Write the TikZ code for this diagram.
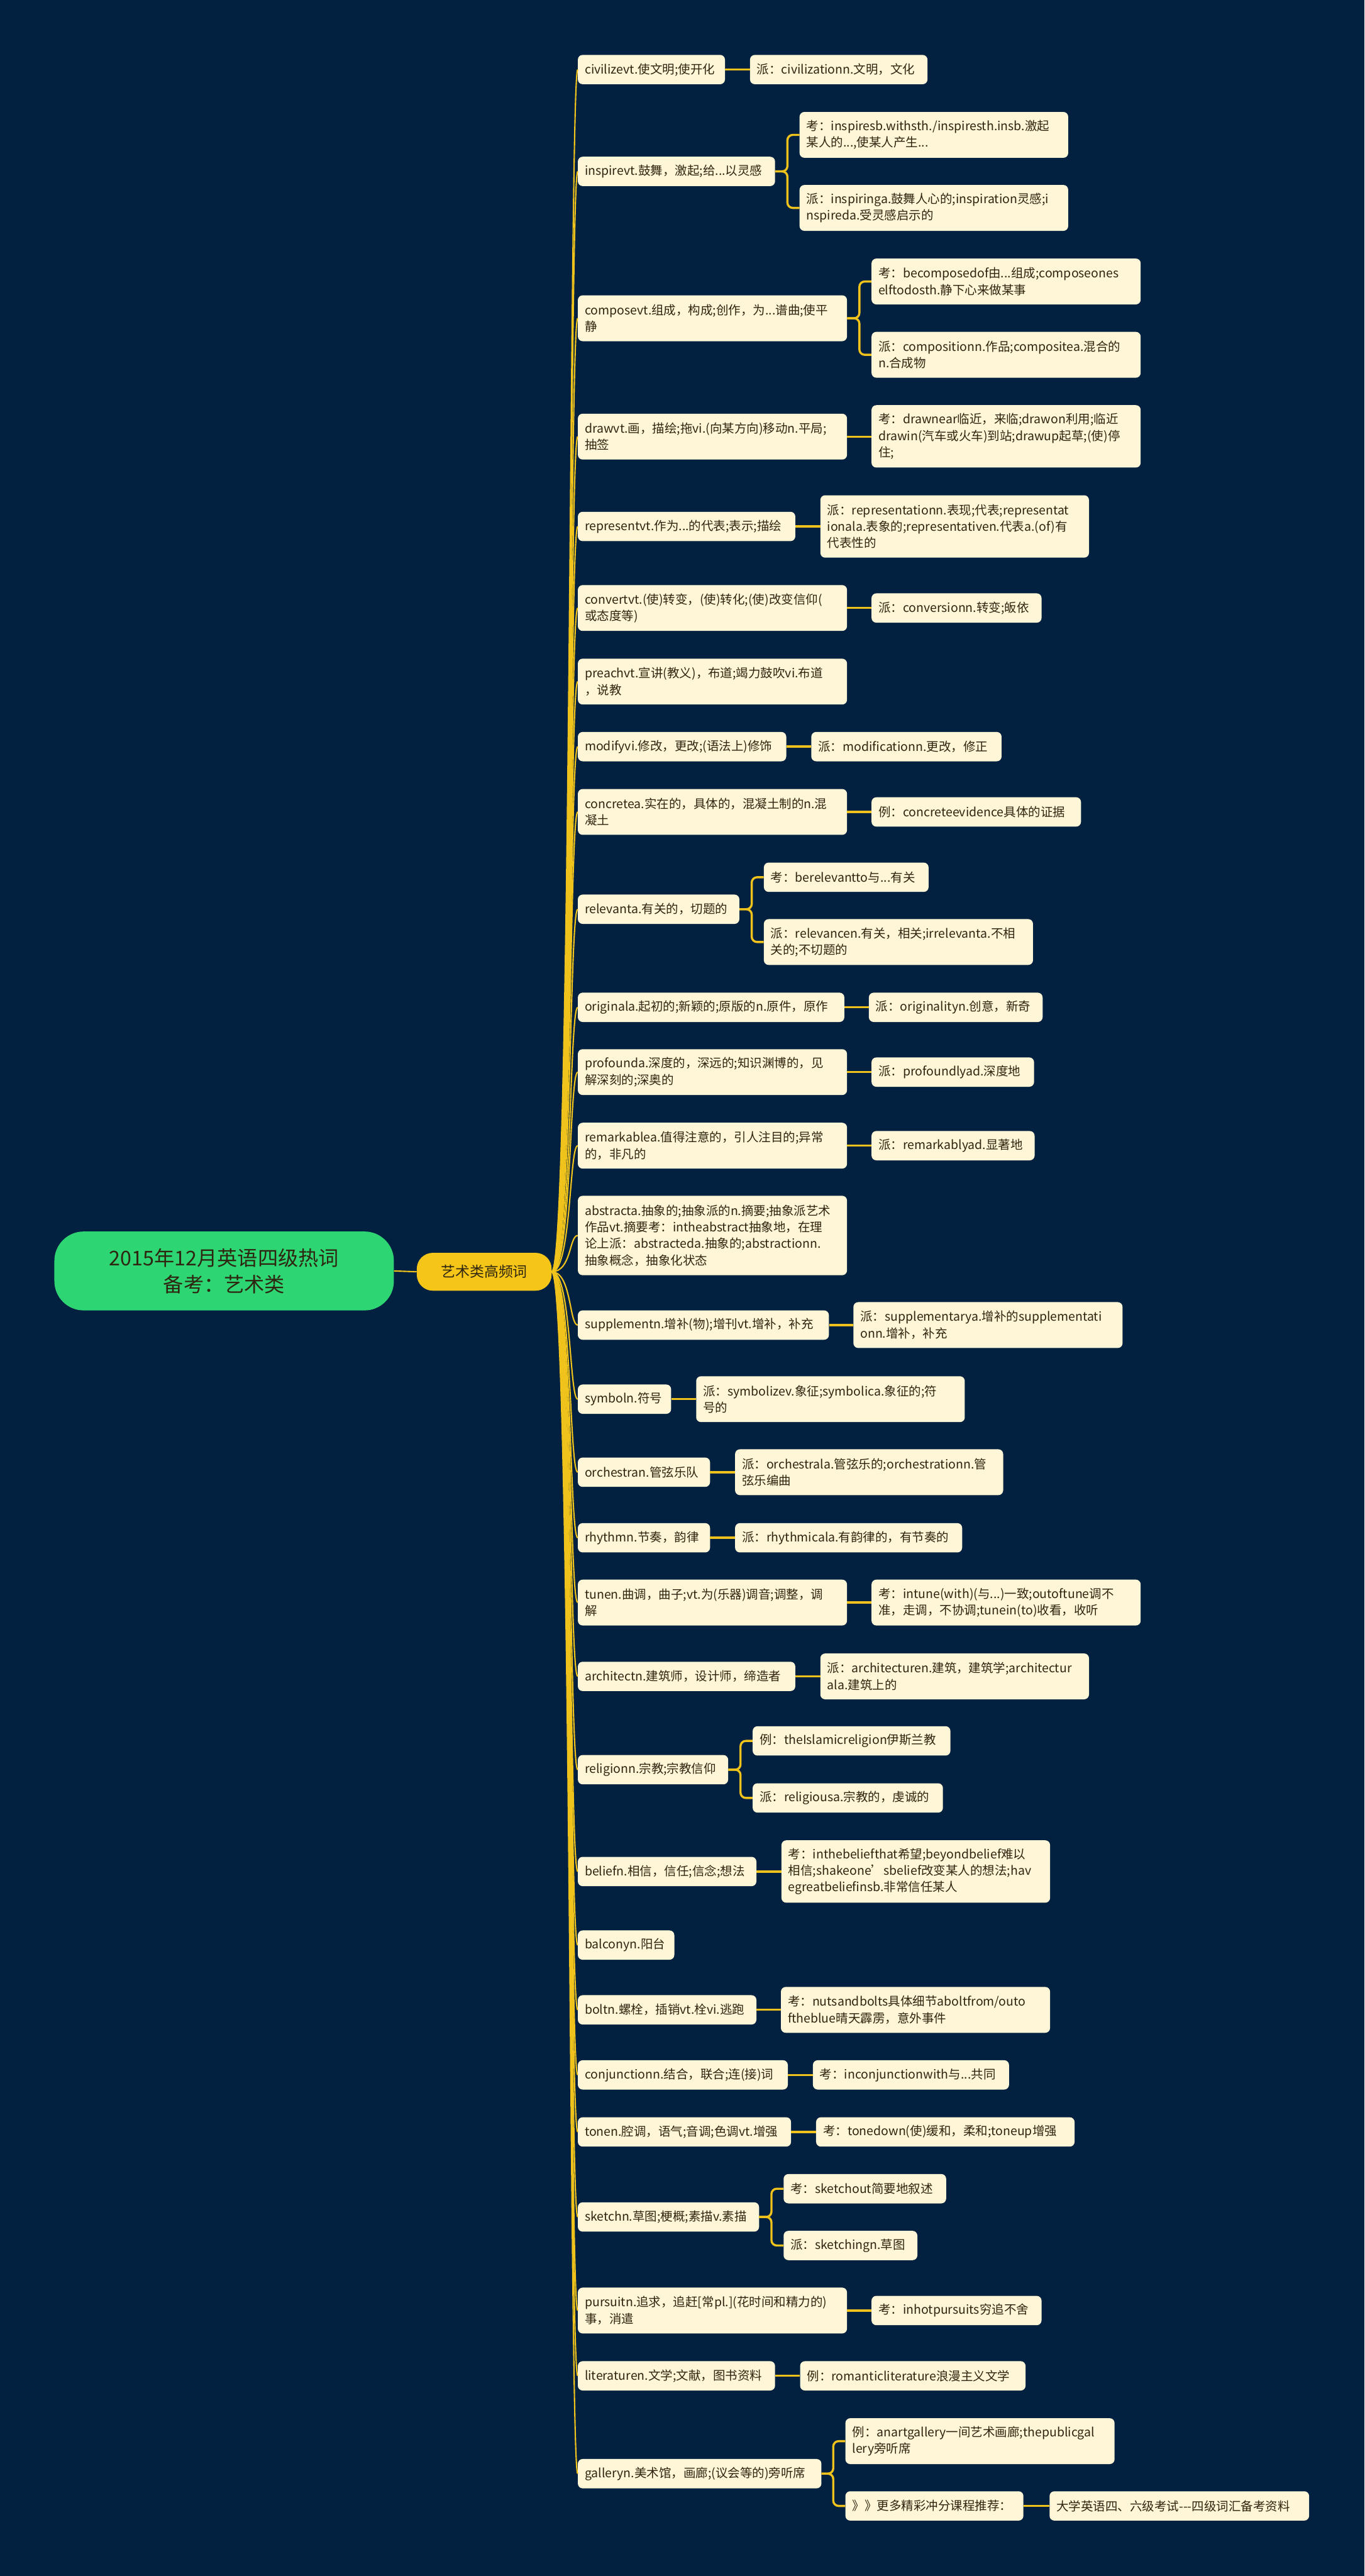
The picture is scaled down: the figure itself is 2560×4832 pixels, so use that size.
\documentclass[tikz,border=0pt]{standalone}
\usepackage{fontspec}
\setmainfont{Noto Sans CJK SC}
\definecolor{bg}{HTML}{022140}
\definecolor{gold}{HTML}{EFC31B}
\definecolor{cream}{HTML}{FEF6D6}
\definecolor{ink}{HTML}{2E2610}
\definecolor{rootg}{HTML}{2DD573}
\definecolor{midc}{HTML}{F5C518}
\begin{document}
\begin{tikzpicture}[x=1pt,y=-1pt,
  lf/.style={rectangle, rounded corners=9pt, fill=cream, text=ink, anchor=west,
    inner xsep=13pt, inner ysep=3pt, align=left, minimum height=55pt,
    font=\fontsize{23pt}{31pt}\selectfont},
  two/.style={minimum height=86pt},
  three/.style={minimum height=117pt},
  four/.style={minimum height=149pt},
  tr/.style={draw=gold, line width=2.5pt},
  br/.style={draw=gold, line width=4pt, rounded corners=10pt},
]
\useasboundingbox[fill=bg] (0,0) rectangle (2560,4832);

% root and centre
\node[rectangle, rounded corners=55pt, fill=rootg, text=ink, minimum width=637pt, minimum height=148pt,
  align=center, font=\fontsize{38pt}{50pt}\selectfont] (root) at (420.5,2384) {2015年12月英语四级热词\\备考：艺术类};
\node[rectangle, rounded corners=30pt, fill=midc, text=ink, minimum width=253pt, minimum height=71pt,
  font=\fontsize{27pt}{32pt}\selectfont] (mid) at (908.5,2385.5) {艺术类高频词};
\draw[tr] (root.east) -- (mid.west);

% level 1
\node[lf, text width=250pt] (a1) at (1084,130.5) {civilizevt.使文明;使开化};
\node[lf, text width=344pt] (a2) at (1084,321.5) {inspirevt.鼓舞，激起;给...以灵感};
\node[lf, two, text width=479pt] (a3) at (1084,597) {composevt.组成，构成;创作，为...谱曲;使平\\静};
\node[lf, two, text width=479pt] (a4) at (1084,819) {drawvt.画，描绘;拖vi.(向某方向)移动n.平局;\\抽签};
\node[lf, text width=382pt] (a5) at (1084,987.5) {representvt.作为...的代表;表示;描绘};
\node[lf, two, text width=479pt] (a6) at (1084,1140.5) {convertvt.(使)转变，(使)转化;(使)改变信仰(\\或态度等)};
\node[lf, two, text width=479pt] (a7) at (1084,1278.5) {preachvt.宣讲(教义)，布道;竭力鼓吹vi.布道\\，说教};
\node[lf, text width=365pt] (a8) at (1084,1400.5) {modifyvi.修改，更改;(语法上)修饰};
\node[lf, two, text width=479pt] (a9) at (1084,1523) {concretea.实在的，具体的，混凝土制的n.混\\凝土};
\node[lf, text width=277pt] (a10) at (1084,1705.5) {relevanta.有关的，切题的};
\node[lf, text width=474pt] (a11) at (1084,1889.5) {originala.起初的;新颖的;原版的n.原件，原作};
\node[lf, two, text width=479pt] (a12) at (1084,2011) {profounda.深度的，深远的;知识渊博的，见\\解深刻的;深奥的};
\node[lf, two, text width=479pt] (a13) at (1084,2149) {remarkablea.值得注意的，引人注目的;异常\\的，非凡的};
\node[lf, four, text width=479pt] (a14) at (1084,2317.5) {abstracta.抽象的;抽象派的n.摘要;抽象派艺术\\作品vt.摘要考：intheabstract抽象地，在理\\论上派：abstracteda.抽象的;abstractionn.\\抽象概念，抽象化状态};
\node[lf, text width=445pt] (a15) at (1084,2485.5) {supplementn.增补(物);增刊vt.增补，补充};
\node[lf, text width=149pt] (a16) at (1084,2624.5) {symboln.符号};
\node[lf, text width=222pt] (a17) at (1084,2761.5) {orchestran.管弦乐队};
\node[lf, text width=222pt] (a18) at (1084,2884.5) {rhythmn.节奏，韵律};
\node[lf, two, text width=479pt] (a19) at (1084,3006) {tunen.曲调，曲子;vt.为(乐器)调音;调整，调\\解};
\node[lf, text width=382pt] (a20) at (1084,3144.5) {architectn.建筑师，设计师，缔造者};
\node[lf, text width=256pt] (a21) at (1084,3319.5) {religionn.宗教;宗教信仰};
\node[lf, text width=309pt] (a22) at (1084,3510.5) {beliefn.相信，信任;信念;想法};
\node[lf, text width=155pt] (a23) at (1084,3648.5) {balconyn.阳台};
\node[lf, text width=309pt] (a24) at (1084,3770) {boltn.螺栓，插销vt.栓vi.逃跑};
\node[lf, text width=368pt] (a25) at (1084,3892) {conjunctionn.结合，联合;连(接)词};
\node[lf, text width=374pt] (a26) at (1084,3999) {tonen.腔调，语气;音调;色调vt.增强};
\node[lf, text width=314pt] (a27) at (1084,4158.5) {sketchn.草图;梗概;素描v.素描};
\node[lf, two, text width=479pt] (a28) at (1084,4334) {pursuitn.追求，追赶[常pl.](花时间和精力的)\\事，消遣};
\node[lf, text width=344pt] (a29) at (1084,4456.5) {literaturen.文学;文献，图书资料};
\node[lf, text width=431pt] (a30) at (1084,4640) {galleryn.美术馆，画廊;(议会等的)旁听席};

% level 2
\node[lf, text width=307pt] (b1) at (1407,130.5) {派：civilizationn.文明，文化};
\node[lf, two, text width=478pt] (b2a) at (1500,253) {考：inspiresb.withsth./inspiresth.insb.激起\\某人的...,使某人产生...};
\node[lf, two, text width=478pt] (b2b) at (1500,390) {派：inspiringa.鼓舞人心的;inspiration灵感;i\\nspireda.受灵感启示的};
\node[lf, two, text width=479pt] (b3a) at (1635,528) {考：becomposedof由...组成;composeones\\elftodosth.静下心来做某事};
\node[lf, two, text width=479pt] (b3b) at (1635,665.5) {派：compositionn.作品;compositea.混合的\\n.合成物};
\node[lf, three, text width=479pt] (b4) at (1635,818.5) {考：drawnear临近，来临;drawon利用;临近\\drawin(汽车或火车)到站;drawup起草;(使)停\\住;};
\node[lf, three, text width=478pt] (b5) at (1539,987.5) {派：representationn.表现;代表;representat\\ionala.表象的;representativen.代表a.(of)有\\代表性的};
\node[lf, text width=293pt] (b6) at (1635,1140.5) {派：conversionn.转变;皈依};
\node[lf, text width=331pt] (b8) at (1522,1400.5) {派：modificationn.更改，修正};
\node[lf, text width=367pt] (b9) at (1635,1523) {例：concreteevidence具体的证据};
\node[lf, text width=283pt] (b10a) at (1433,1645.5) {考：berelevantto与...有关};
\node[lf, two, text width=479pt] (b10b) at (1433,1767) {派：relevancen.有关，相关;irrelevanta.不相\\关的;不切题的};
\node[lf, text width=300pt] (b11) at (1630,1889.5) {派：originalityn.创意，新奇};
\node[lf, text width=279pt] (b12) at (1635,2011) {派：profoundlyad.深度地};
\node[lf, text width=280pt] (b13) at (1635,2149) {派：remarkablyad.显著地};
\node[lf, two, text width=479pt] (b15) at (1601,2485.5) {派：supplementarya.增补的supplementati\\onn.增补，补充};
\node[lf, two, text width=478pt] (b16) at (1306,2624.5) {派：symbolizev.象征;symbolica.象征的;符\\号的};
\node[lf, two, text width=477pt] (b17) at (1379,2761.5) {派：orchestrala.管弦乐的;orchestrationn.管\\弦乐编曲};
\node[lf, text width=400pt] (b18) at (1379,2884.5) {派：rhythmicala.有韵律的，有节奏的};
\node[lf, two, text width=479pt] (b19) at (1635,3006) {考：intune(with)(与...)一致;outoftune调不\\准，走调，不协调;tunein(to)收看，收听};
\node[lf, two, text width=478pt] (b20) at (1539,3144.5) {派：architecturen.建筑，建筑学;architectur\\ala.建筑上的};
\node[lf, text width=345pt] (b21a) at (1412,3265.5) {例：theIslamicreligion伊斯兰教};
\node[lf, text width=331pt] (b21b) at (1412,3372.5) {派：religiousa.宗教的，虔诚的};
\node[lf, three, text width=478pt] (b22) at (1466,3510.5) {考：inthebeliefthat希望;beyondbelief难以\\相信;shakeone’sbelief改变某人的想法;hav\\egreatbeliefinsb.非常信任某人};
\node[lf, two, text width=479pt] (b24) at (1465,3770) {考：nutsandbolts具体细节aboltfrom/outo\\ftheblue晴天霹雳，意外事件};
\node[lf, text width=342pt] (b25) at (1525,3892) {考：inconjunctionwith与...共同};
\node[lf, text width=459pt] (b26) at (1531,3999) {考：tonedown(使)缓和，柔和;toneup增强};
\node[lf, text width=279pt] (b27a) at (1470,4105.5) {考：sketchout简要地叙述};
\node[lf, text width=225pt] (b27b) at (1470,4212) {派：sketchingn.草图};
\node[lf, text width=293pt] (b28) at (1635,4334) {考：inhotpursuits穷追不舍};
\node[lf, text width=397pt] (b29) at (1501,4456.5) {例：romanticliterature浪漫主义文学};
\node[lf, two, text width=479pt] (b30a) at (1586,4579) {例：anartgallery一间艺术画廊;thepublicgal\\lery旁听席};
\node[lf, text width=308pt] (b30b) at (1586,4700.5) {》》更多精彩冲分课程推荐：};
\node[lf, text width=461pt] (c30) at (1969,4700.5) {大学英语四、六级考试{-}{-}{-}四级词汇备考资料};

% trunk connectors
\foreach \i in {1,...,30}
  \draw[tr] (mid.east) .. controls +(37,0) and +(-16,0) .. (a\i.west);

% single child connectors
\foreach \p/\c in {a1/b1,a4/b4,a5/b5,a6/b6,a8/b8,a9/b9,a11/b11,a12/b12,a13/b13,a15/b15,a16/b16,a17/b17,a18/b18,a19/b19,a20/b20,a22/b22,a24/b24,a25/b25,a26/b26,a28/b28,a29/b29,b30b/c30}
  \draw[br] (\p.east) -- (\p.east -| \c.west);

% two child connectors
\foreach \p/\c/\d in {a2/b2a/23,a2/b2b/23,a3/b3a/23,a3/b3b/23,a10/b10a/23,a10/b10b/23,a21/b21a/23,a21/b21b/23,a27/b27a/23,a27/b27b/23,a30/b30a/22,a30/b30b/22}
  \draw[br] (\p.east) -- ++(\d,0) |- (\c.west);
\end{tikzpicture}
\end{document}
